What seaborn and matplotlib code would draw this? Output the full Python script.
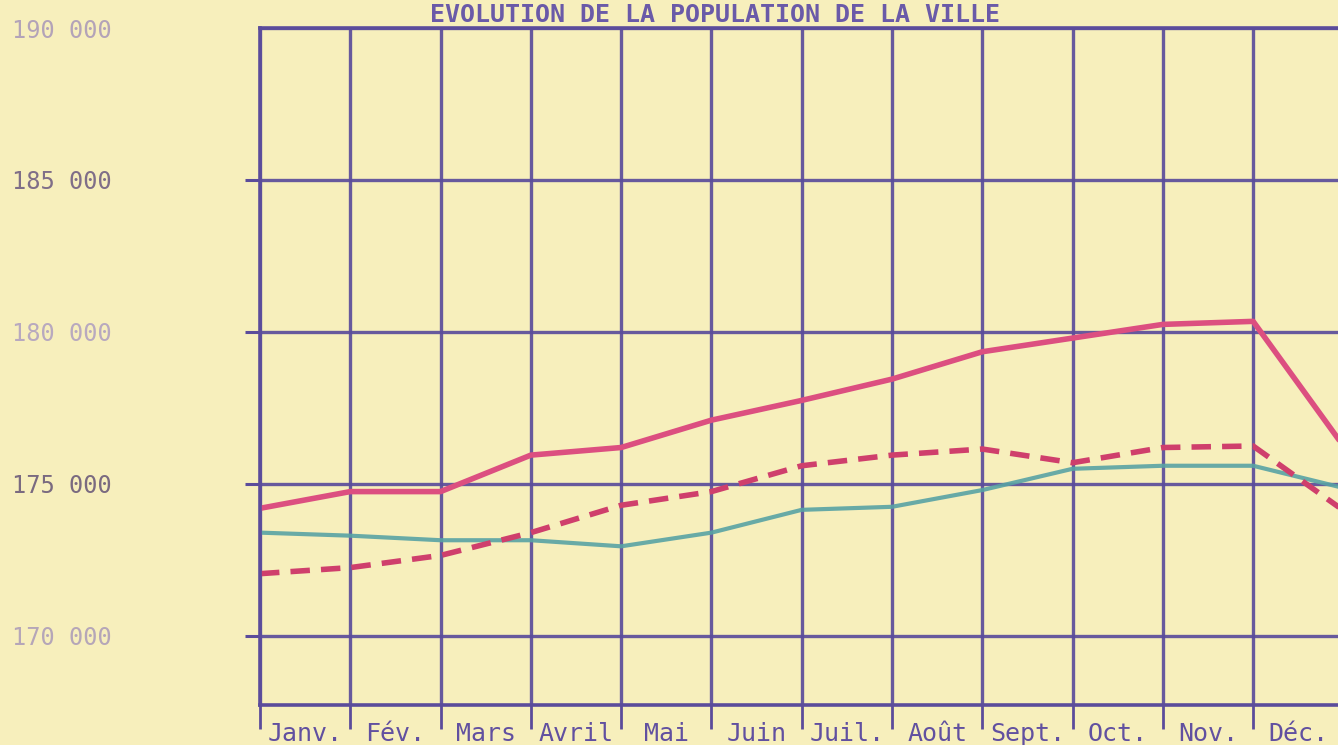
import seaborn as sns
import matplotlib.pyplot as plt
import numpy as np

# data (13 points: start of each month + next January)
months = ['Janv.', 'Fév.', 'Mars', 'Avril', 'Mai', 'Juin',
          'Juil.', 'Août', 'Sept.', 'Oct.', 'Nov.', 'Déc.']
x_pts = list(range(13))
pink_solid = [174200, 174750, 174750, 175950, 176200, 177100, 177750,
              178450, 179350, 179800, 180250, 180350, 176250]
pink_dashed = [172050, 172250, 172650, 173400, 174300, 174750, 175600,
               175950, 176150, 175700, 176200, 176250, 174130]
teal = [173400, 173300, 173150, 173150, 172950, 173400, 174150,
        174250, 174800, 175500, 175600, 175600, 174870]
y_ticks = [170000, 175000, 180000, 185000, 190000]
y_labels = ['170 000', '175 000', '180 000', '185 000', '190 000']
y_label_colors = ['#b5a6b8', '#7a6a80', '#b8a9bf', '#7f6e88', '#b3a3b8']

paper = '#f7efbc'
grid = '#5b4c9b'

sns.set_style('white')
plt.rcParams['font.family'] = ['DejaVu Sans Mono', 'DejaVu Sans']

fig = plt.figure(figsize=(13.38, 7.45), dpi=100, facecolor=paper)
ax = fig.add_axes([260 / 1338, 1 - 705 / 745, 1 - 260 / 1338, (705 - 28) / 745])
ax.set_facecolor(paper)

sns.lineplot(x=x_pts, y=teal, ax=ax, color='#58a3a4', lw=3.0, alpha=0.9)
sns.lineplot(x=x_pts, y=pink_dashed, ax=ax, color='#cf3f6c', lw=4.0,
             linestyle=(0, (3.5, 2.0)))
sns.lineplot(x=x_pts, y=pink_solid, ax=ax, color='#dc4f80', lw=4.0)

ax.set_xlim(0, 11.94)
ax.set_ylim(167730, 190000)

# grid
ax.set_xticks(range(12))
ax.set_xticks(np.arange(12) + 0.5, minor=True)
ax.set_xticklabels([''] * 12)
ax.set_xticklabels(months, minor=True, fontsize=18, color='#6150a0')
ax.tick_params(axis='x', which='major', bottom=True, direction='out',
               length=17, width=2, color=grid)
ax.tick_params(axis='x', which='minor', bottom=True, length=0, pad=12)

ax.set_yticks(y_ticks)
ax.set_yticklabels(y_labels, fontsize=17, ha='left')
for lbl, c in zip(ax.get_yticklabels(), y_label_colors):
    lbl.set_color(c)
ax.tick_params(axis='y', left=True, direction='out', length=11, width=2.2,
               color=grid, pad=(248 - 15) * 0.72)
ax.yaxis.get_major_ticks()[-1].tick1line.set_visible(False)

ax.grid(True, which='major', color=grid, lw=2.4, alpha=0.92)
ax.set_axisbelow(True)
for side in ['left', 'top', 'bottom']:
    ax.spines[side].set_color(grid)
    ax.spines[side].set_linewidth(2.6)
ax.spines['right'].set_visible(False)
ax.set_xlabel('')
ax.set_ylabel('')

# title in the thin strip above the grid
fig.text(430 / 1338, 1 - 22 / 745, 'EVOLUTION DE LA POPULATION DE LA VILLE',
         fontsize=18, fontweight='bold', color='#6a5aa8', ha='left',
         va='baseline')

fig.savefig('out.png', dpi=100, facecolor=paper)
